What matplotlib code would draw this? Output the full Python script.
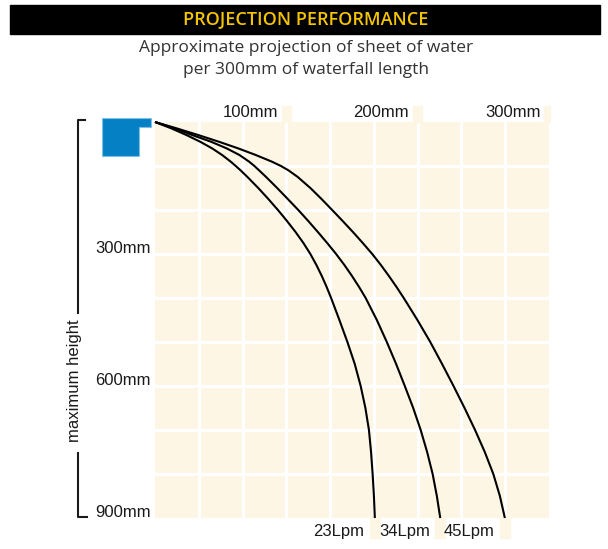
import matplotlib
matplotlib.use('Agg')
import matplotlib.pyplot as plt
from matplotlib.patches import Rectangle, Polygon
from matplotlib.lines import Line2D

# ---- data (mm) ----
depth_mm = [0, 15, 30, 45, 60, 75, 90, 100, 110, 125, 150, 175, 200, 225,
            250, 275, 300, 325, 350, 375, 400, 450, 500, 550, 600, 650, 700,
            750, 800, 850, 900]
reach_23 = [0, 12.9, 24.2, 34.5, 43.5, 51.1, 57.6, 61.5, 65.2, 70.4, 78.6,
            86.3, 93.6, 100.5, 107.0, 113.0, 118.3, 122.9, 127.0, 130.7,
            134.1, 140.4, 146.5, 152.1, 156.6, 160.2, 162.9, 164.5, 165.7,
            166.7, 167.4]
reach_34 = [0, 15.4, 28.7, 42.8, 54.6, 64.3, 71.6, 75.7, 79.3, 84.6, 93,
            101.1, 109.1, 116.7, 124.0, 131.1, 137.9, 144.2, 150.0, 155.4,
            160.4, 168.9, 176.5, 183.6, 190.2, 196.6, 202.3, 207.2, 211.4,
            214.6, 217.2]
reach_45 = [0, 17.1, 33.3, 48.8, 63.4, 76.7, 88.9, 95.9, 101.7, 108.7, 118.3,
            126.8, 134.9, 142.9, 150.7, 158.2, 165.4, 172.0, 178.1, 183.9,
            189.4, 199.8, 209.6, 218.6, 227.3, 235.7, 243.7, 251.1, 257.6,
            262.6, 266.4]
flow_labels = ['23Lpm', '34Lpm', '45Lpm']
x_ticks = [100, 200, 300]
x_tick_labels = ['100mm', '200mm', '300mm']
y_ticks = [300, 600, 900]
y_tick_labels = ['300mm', '600mm', '900mm']
title = 'PROJECTION PERFORMANCE'
subtitle_lines = ['Approximate projection of sheet of water',
                  'per 300mm of waterfall length']
y_axis_label = 'maximum height'

CREAM = '#FDF6E4'
W, H = 608, 549
fig = plt.figure(figsize=(W / 100, H / 100), dpi=100)

# ---- overlay (pixel coords) for decorations ----
ov = fig.add_axes([0, 0, 1, 1])
ov.set_xlim(0, W)
ov.set_ylim(H, 0)
ov.axis('off')

ov.add_patch(Rectangle((10, 5), 590, 29, color='black'))
ov.text(306, 19.5, title, color='#F5C400', fontsize=13, fontweight='semibold',
        family='Open Sans', ha='center', va='center')
ov.text(306, 48, subtitle_lines[0], ha='center', va='center', fontsize=12.5,
        family='Open Sans', color='#333333')
ov.text(306, 70, subtitle_lines[1], ha='center', va='center', fontsize=12.5,
        family='Open Sans', color='#333333')

# nozzle icon
ov.add_patch(Polygon([(101.7, 118.3), (150.7, 118.3), (150.7, 126.7),
                      (139.3, 126.7), (139.3, 155.7), (101.7, 155.7)],
                     closed=True, facecolor='#0580C5', edgecolor='#7FC0EA', lw=0.8))

# bracket
ov.add_line(Line2D([85, 78, 78], [120, 120, 313], color='#1a1a1a', lw=1.5))
ov.add_line(Line2D([78, 78, 87], [453, 517, 517], color='#1a1a1a', lw=1.5))
ov.text(74, 381, y_axis_label, rotation=90, ha='center', va='center',
        fontsize=12, family='Liberation Sans', color='#1a1a1a')

# ---- grid axes (mm) ----
ax = fig.add_axes([155 / W, 1 - 518 / H, 394 / W, 396 / H])
ax.set_xlim(0, 300)
ax.set_ylim(900, 0)
ax.set_facecolor(CREAM)
for s in ax.spines.values():
    s.set_visible(False)
ax.set_xticks([i * 100 / 3 for i in range(1, 9)])
ax.set_yticks(list(range(100, 900, 100)))
ax.grid(True, color='white', lw=2.2)
ax.set_axisbelow(True)
ax.tick_params(length=0, labelbottom=False, labelleft=False)

# top tabs + labels
for xv, lab in zip(x_ticks, x_tick_labels):
    left = xv - 3.5
    right = min(xv + 3.5, 300.8)
    ax.add_patch(Rectangle((left, -36), right - left, 36, color=CREAM,
                           clip_on=False, zorder=1))
    ax.text(left - 3, -11.5, lab, ha='right', va='baseline', fontsize=12,
            family='Liberation Sans', color='#1a1a1a', clip_on=False)

# left labels
for yv, lab in zip(y_ticks, y_tick_labels):
    ax.text(-3, yv - 2, lab, ha='right', va='baseline', fontsize=12,
            family='Liberation Sans', color='#1a1a1a', clip_on=False)

# curves
for reach, lab in zip([reach_23, reach_34, reach_45], flow_labels):
    ax.plot(reach, depth_mm, color='black', lw=1.5, clip_on=False, zorder=3,
            solid_joinstyle='round', solid_capstyle='butt')
    end = reach[-1]
    ax.add_patch(Rectangle((end - 3.8, 900), 7.6, 45, color=CREAM,
                           clip_on=False, zorder=1))
    ax.text(end - 8, 941, lab, ha='right', va='baseline', fontsize=12,
            family='Liberation Sans', color='#1a1a1a', clip_on=False)

fig.savefig('out.png', dpi=100)
